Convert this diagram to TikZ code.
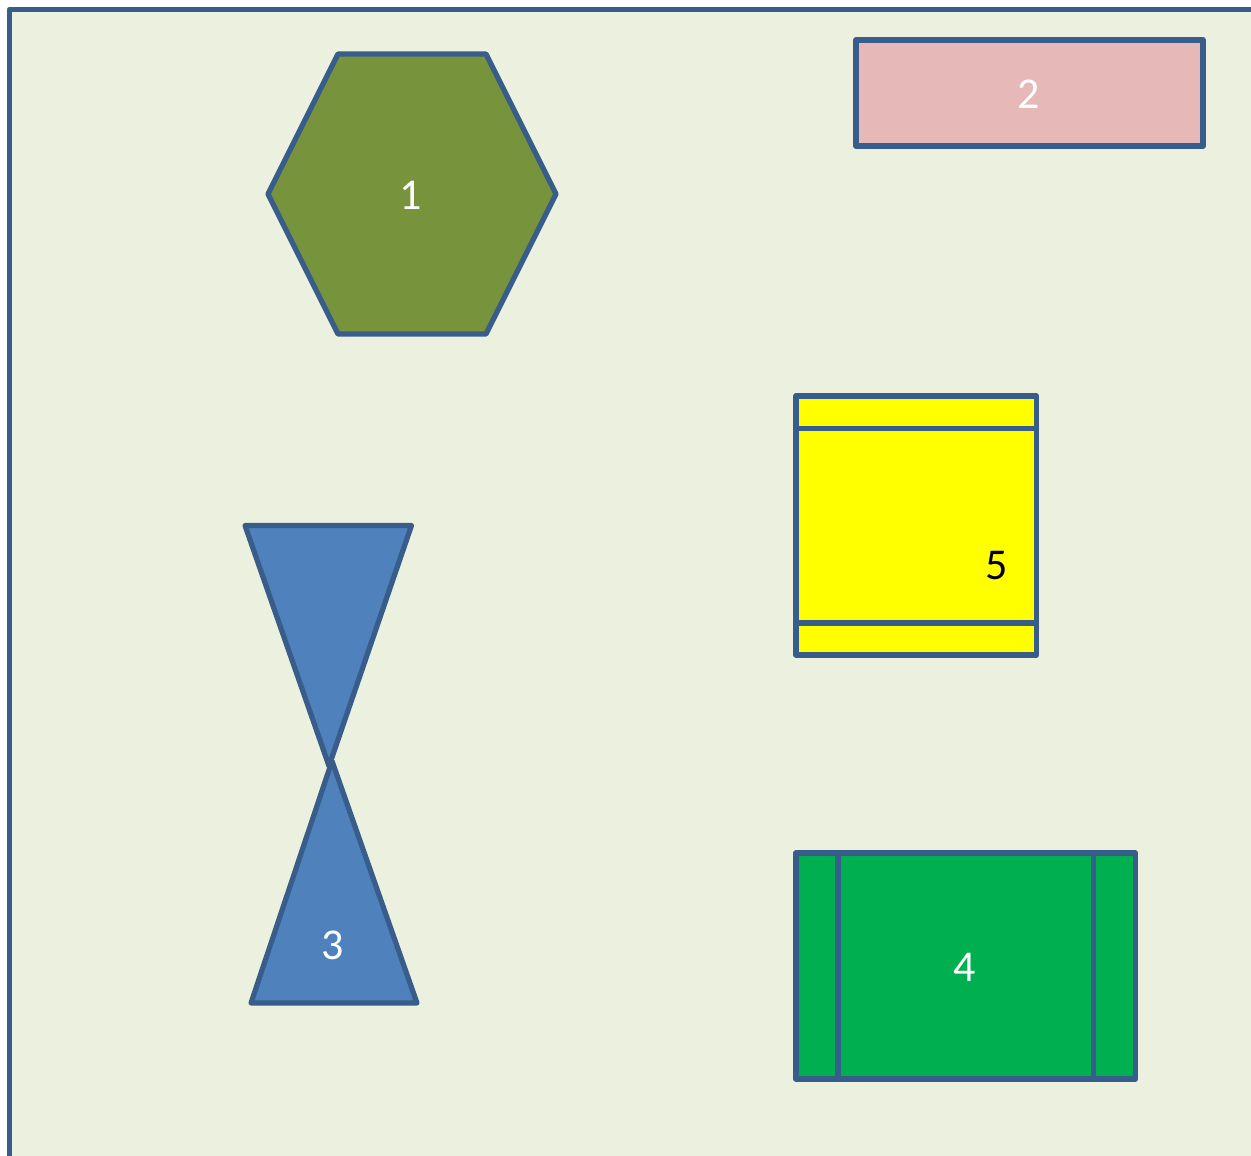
\documentclass[tikz,border=0pt]{standalone}
\usepackage{fontspec}
\setmainfont{Carlito}
\definecolor{bgc}{HTML}{EBF1DE}
\definecolor{linec}{HTML}{385D8A}
\definecolor{olivec}{HTML}{77933C}
\definecolor{pinkc}{HTML}{E6B9B8}
\definecolor{bluec}{HTML}{4F81BD}
\definecolor{greenc}{HTML}{00B050}
\definecolor{yellowc}{HTML}{FFFF00}
\tikzset{
  shp/.style={draw=linec, line width=2.6pt, line join=round, line cap=round},
  lbl/.style={font=\fontsize{22}{26}\selectfont, text=white, inner sep=0pt},
}
\begin{document}
\begin{tikzpicture}[x=0.5pt, y=-0.5pt]
\useasboundingbox (0,0) rectangle (1251,1155);
\begin{scope}
\clip (0,0) rectangle (1251,1155);
\fill[bgc] (9.5,9.5) rectangle (1270,1170);
\draw[shp] (1270,9.5) -- (9.5,9.5) -- (9.5,1170);
\end{scope}
% hexagon 1
\draw[shp, fill=olivec] (268,194) -- (338,54) -- (486,54) -- (556,194) -- (486,334) -- (338,334) -- cycle;
\node[lbl] (n1) at (411,195) {1};
% rectangle 2
\draw[shp, fill=pinkc] (856,40) rectangle (1203,146);
\node[lbl] (n2) at (1029,94) {2};
% triangles 3
\draw[shp, fill=bluec] (245,525.5) -- (411.5,525.5) -- (329,766) -- cycle;
\draw[shp, fill=bluec] (332,761) -- (417,1003) -- (251,1003) -- cycle;
\node[lbl] (n3) at (333,945) {3};
% rectangle 5
\draw[shp, fill=yellowc] (796,396) rectangle (1036.5,655);
\draw[shp] (796,428.5) -- (1036.5,428.5);
\draw[shp] (796,623) -- (1036.5,623);
\node[lbl, text=black] (n5) at (996.5,566) {5};
% rectangle 4
\draw[shp, fill=greenc] (796,853) rectangle (1135.5,1079);
\draw[shp] (838,853) -- (838,1079);
\draw[shp] (1093.5,853) -- (1093.5,1079);
\node[lbl] (n4) at (965,967) {4};
\end{tikzpicture}
\end{document}
